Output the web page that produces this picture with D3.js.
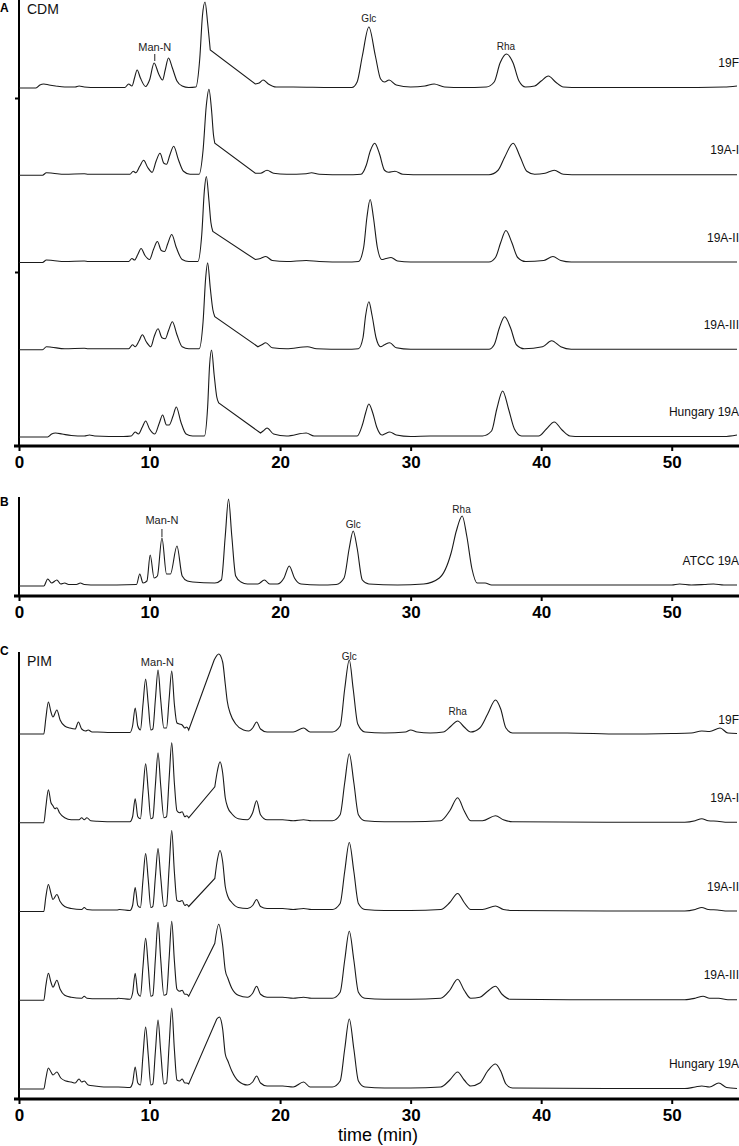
<!DOCTYPE html>
<html><head><meta charset="utf-8">
<script src="https://cdn.jsdelivr.net/npm/d3@7"></script>
<style>
body{margin:0;background:#fff;}
svg{display:block;}
</style></head>
<body>
<svg id="chart" width="739" height="1146"></svg>
<script>
// ---------------- DATA ----------------
const xTicks = [0, 10, 20, 30, 40, 50];
const xLabel = "time (min)";

const panelATitle = "CDM";
const panelCTitle = "PIM";
const samplesA = ["19F", "19A-I", "19A-II", "19A-III", "Hungary 19A"];
const samplesB = ["ATCC 19A"];
const samplesC = ["19F", "19A-I", "19A-II", "19A-III", "Hungary 19A"];

// Panel A (CDM) traces: [time (min), detector response]
const cdm19F = [[0,0],[1.3,0],[1.6,3],[1.9,4],[2.3,3],[2.8,2],[3.5,1],[4.3,1],[4.6,2],[5.0,1],[6,0.5],[8.1,0.5],[8.4,4],[8.65,2],[8.85,10],[9.05,18],[9.3,10],[9.7,1.5],[10.0,8],[10.35,25],[10.7,14],[11.0,8],[11.2,18],[11.45,30],[11.75,20],[12.1,7],[12.5,2],[13.0,0.5],[13.55,1],[13.85,30],[14.05,72],[14.25,86],[14.45,65],[14.65,38],[18.1,4],[18.4,5],[18.7,8],[19.1,4],[19.7,1],[21,1],[24,0.5],[25.5,0.5],[25.9,6],[26.3,32],[26.8,61],[27.3,32],[27.7,9],[28.0,6],[28.35,8],[28.9,3],[30,1],[31.1,2],[31.8,4],[32.6,1],[34,0.5],[35.8,1],[36.4,6],[36.85,25],[37.35,34],[37.85,25],[38.3,7],[38.8,1],[39.5,2],[40.0,7],[40.55,12],[41.1,6],[41.7,1],[43,0.5],[50,0.5],[54,1],[55,2]];
const cdm19AI = [[0,0],[1.8,0],[2.1,2.5],[2.6,2],[3.5,1],[5.0,1.5],[5.3,1],[8.5,1],[8.75,4],[8.95,2.5],[9.25,9],[9.55,15],[9.85,8],[10.2,3],[10.5,14],[10.8,22],[11.1,12],[11.3,11],[11.55,20],[11.85,29],[12.2,16],[12.6,4],[13.1,1],[13.8,1],[14.1,25],[14.35,70],[14.55,86],[14.75,65],[14.9,40],[15.0,32],[18.1,2],[18.5,2],[19.0,5],[19.5,2],[20.5,1],[22.0,1.5],[22.4,2.5],[23,1],[25,0.5],[26.2,1],[26.6,10],[26.9,24],[27.25,32],[27.6,22],[28.0,5],[28.3,3],[28.8,4],[29.4,1],[31,0.5],[36,0.5],[36.7,5],[37.2,18],[37.85,32],[38.4,18],[38.9,4],[39.5,1],[40.3,2],[41.0,5],[41.7,1],[43,0.5],[54,0.5],[55,0.5]];
const cdm19AII = [[0,0],[1.8,0],[2.1,2.5],[2.6,2],[3.5,1],[5.0,1.5],[5.3,1],[8.4,1],[8.65,4],[8.85,2.5],[9.1,8],[9.35,14],[9.65,7],[10.0,3],[10.3,13],[10.6,21],[10.9,12],[11.15,11],[11.4,19],[11.7,28],[12.05,15],[12.5,3],[13.0,1],[13.7,1],[14.0,28],[14.2,72],[14.35,86],[14.55,62],[14.7,40],[14.85,31],[18.1,3],[18.5,4],[18.9,6],[19.4,2],[20.5,1],[22.0,2],[23,1],[25,0.5],[26.0,1],[26.4,15],[26.65,45],[26.9,63],[27.15,45],[27.45,15],[27.8,3],[28.1,4],[28.5,5],[29,1.5],[30,0.5],[36,0.5],[36.5,5],[36.9,20],[37.3,32],[37.75,20],[38.2,5],[38.8,1],[40.2,2],[40.9,6],[41.5,2],[42.3,0.5],[55,0.5]];
const cdm19AIII = [[0,0],[1.8,0],[2.1,3],[2.5,2.5],[3.5,1],[5.0,1.5],[5.3,1],[8.4,1],[8.7,5],[8.9,3],[9.2,9],[9.45,15],[9.75,8],[10.1,3],[10.35,13],[10.65,21],[10.95,12],[11.2,11],[11.45,19],[11.75,28],[12.1,15],[12.5,3],[13.0,1],[13.8,1],[14.1,28],[14.3,72],[14.45,87],[14.65,62],[14.85,40],[15.0,33],[18.3,3],[18.6,5],[18.9,7],[19.4,2],[20.5,1],[22.1,3],[22.8,1],[25,0.5],[26.0,1],[26.35,12],[26.55,34],[26.8,48],[27.05,34],[27.35,12],[27.7,3],[28.0,5],[28.4,7],[28.9,2],[30,0.5],[36,0.5],[36.4,5],[36.8,22],[37.2,33],[37.65,22],[38.1,5],[38.7,1],[40.1,3],[40.8,9],[41.5,3],[42.3,0.5],[55,0.5]];
const cdmHungary = [[0,0],[2.2,0],[2.5,3],[2.8,4],[3.3,3],[4,1.5],[5.0,1],[5.4,2],[5.8,1],[8,0.5],[8.6,1],[8.9,5],[9.15,3],[9.45,10],[9.7,16],[10.0,8],[10.4,3],[10.75,14],[11.0,22],[11.3,12],[11.5,12],[11.8,21],[12.05,30],[12.4,15],[12.8,3],[13.3,1],[14.2,1],[14.45,30],[14.6,72],[14.75,87],[14.95,62],[15.15,40],[15.3,34],[18.5,4],[18.7,6],[19.0,9],[19.5,3],[20.5,1],[22.0,4],[22.6,1],[24.8,1],[25.9,1],[26.3,12],[26.55,24],[26.8,33],[27.1,24],[27.4,10],[27.8,2],[28.0,3],[28.4,5],[28.9,2],[30,0.5],[31.5,1],[35.5,1],[36.2,6],[36.6,28],[37.05,46],[37.5,28],[37.95,8],[38.5,1],[39.8,1],[40.4,8],[41.0,15],[41.6,7],[42.2,1],[43,0.5],[54,0.5],[55,2]];
// straight baseline-jump segments in each CDM trace: [from time, to time]
const cdmJumps = [[14.65, 18.1], [15.0, 18.1], [14.85, 18.1], [15.0, 18.3], [15.3, 18.5]];

// Panel B (ATCC 19A)
const atcc19A = [[0,0],[1.9,0],[2.2,7],[2.5,3],[2.9,6],[3.2,2],[3.5,3],[3.8,1.5],[4.4,1.5],[4.7,3],[5.0,1.5],[6,1],[9.0,1.5],[9.25,12],[9.5,3],[9.8,5],[10.05,31],[10.35,8],[10.6,10],[10.95,48],[11.3,12],[11.6,12],[12.1,40],[12.5,10],[12.9,5],[13.3,4],[15.0,3],[15.5,6],[15.8,50],[16.05,87],[16.3,50],[16.6,10],[17.0,4],[17.5,2],[18.3,2],[18.8,6],[19.2,2],[19.8,2],[20.3,8],[20.7,20],[21.1,8],[21.6,2],[23,1],[24.3,1.5],[24.9,8],[25.3,38],[25.6,55],[25.9,38],[26.3,6],[26.8,2],[29,1],[31,2],[32.2,8],[33.1,33],[33.5,55],[33.95,70],[34.3,50],[34.7,17],[35.1,3],[35.7,3],[36.2,1],[40,1],[45,1],[50,1],[50.6,2],[51.5,1],[52.5,1.5],[53.2,2],[54,1],[55,1]];

// Panel C (PIM) traces
const pim19F = [[0,0],[1.9,0],[2.05,15],[2.25,32],[2.45,22],[2.6,17],[2.9,24],[3.15,14],[3.5,8],[3.9,6],[4.3,5],[4.55,12],[4.8,5],[5.1,3],[5.3,4],[5.6,2],[6,2],[7,1.5],[8.5,1.5],[8.7,8],[8.9,26],[9.1,8],[9.3,4],[9.5,30],[9.7,55],[9.9,30],[10.1,4],[10.25,5],[10.45,35],[10.65,64],[10.85,35],[11.1,6],[11.3,6],[11.5,35],[11.7,63],[11.9,30],[12.1,11],[12.3,10],[12.5,9],[12.7,6],[12.85,7],[13.0,4],[14.95,74],[15.3,80],[15.6,72],[15.8,50],[15.95,33],[16.2,20],[16.6,10],[17.2,4],[17.6,3],[17.9,6],[18.2,12],[18.5,5],[19,2],[20.2,2],[21.0,2],[21.8,6],[22.3,2],[23,2],[24,2],[24.6,8],[24.95,45],[25.3,74],[25.6,45],[25.95,10],[26.5,2],[28,1],[29.6,2],[30.0,4],[30.5,2],[31.5,1],[32.5,2],[33.1,8],[33.6,13],[34.1,7],[34.6,2],[35.3,6],[35.9,20],[36.5,34],[36.9,25],[37.3,6],[37.8,1],[40,1],[42,1],[46,0],[50,0.5],[51.5,1],[52.3,3],[52.9,2.5],[53.7,6],[54.3,1],[55,0.5]];
const pim19AI = [[0,0],[1.9,0],[2.05,15],[2.25,33],[2.45,20],[2.6,17],[2.75,14],[2.9,15],[3.1,10],[3.5,5],[4,3],[4.6,3],[4.8,5],[5.0,3],[5.2,5],[5.5,2],[6,1.5],[7.5,1],[8.5,1],[8.7,6],[8.9,24],[9.1,6],[9.3,4],[9.5,32],[9.7,59],[9.9,32],[10.1,4],[10.25,5],[10.45,38],[10.65,70],[10.85,38],[11.1,5],[11.3,6],[11.5,44],[11.7,80],[11.9,40],[12.1,12],[12.3,10],[12.5,11],[12.7,6],[12.85,7],[13.0,5],[15.0,36],[15.2,52],[15.4,61],[15.6,50],[15.8,25],[16.0,15],[16.3,9],[16.8,4],[17.5,3],[17.9,10],[18.2,22],[18.5,8],[19,3],[20.2,3],[21.0,2],[21.8,3],[22.4,2],[24,2],[24.6,8],[24.95,40],[25.3,69],[25.65,40],[26.0,8],[26.5,2],[28,1],[30,1],[32.3,2],[33.0,12],[33.6,25],[34.1,12],[34.6,2],[35.5,2],[36.5,7],[37.1,3],[37.8,1],[45,0.5],[51,0.5],[51.8,2],[52.3,4],[52.8,2],[53.5,1.5],[54.3,0.5],[55,0.5]];
const pim19AII = [[0,0],[1.9,0],[2.05,14],[2.25,27],[2.45,18],[2.6,12],[2.9,17],[3.15,10],[3.5,5],[4,3],[4.8,2],[5.0,4],[5.2,2],[6,1.5],[7.5,1.5],[7.7,2],[8.5,1],[8.7,6],[8.9,24],[9.1,6],[9.3,4],[9.5,32],[9.7,58],[9.9,32],[10.1,4],[10.25,5],[10.45,35],[10.65,63],[10.85,35],[11.1,5],[11.3,6],[11.5,44],[11.7,81],[11.9,40],[12.1,11],[12.3,10],[12.5,11],[12.7,6],[12.85,7],[13.0,5],[15.0,33],[15.2,52],[15.4,61],[15.6,50],[15.8,25],[16.0,15],[16.3,9],[16.8,4],[17.5,3],[17.9,6],[18.2,12],[18.5,5],[19,3],[20.2,3],[21.0,2],[21.8,3],[22.4,2],[24,2],[24.6,8],[24.95,40],[25.3,69],[25.65,40],[26.0,8],[26.5,2],[28,1],[30,1],[32.3,2],[33.0,9],[33.6,18],[34.1,9],[34.6,2],[35.5,2],[36.5,5.5],[37.1,2],[37.8,1],[45,0.5],[51,0.5],[51.8,2],[52.3,4],[52.8,2],[53.5,1.5],[54.3,0.5],[55,0.5]];
const pim19AIII = [[0,0],[1.9,0],[2.05,14],[2.25,27],[2.45,18],[2.6,13],[2.9,20],[3.15,11],[3.5,5],[4,3],[4.8,2],[5.0,4],[5.2,2],[6,1.5],[7.5,1.5],[7.6,2],[8.5,1],[8.7,7],[8.9,27],[9.1,7],[9.3,4],[9.5,34],[9.7,62],[9.9,34],[10.1,4],[10.25,5],[10.45,42],[10.65,78],[10.85,42],[11.1,5],[11.3,6],[11.5,42],[11.7,79],[11.9,40],[12.1,11],[12.3,9],[12.5,10],[12.7,6],[12.85,6],[13.0,4],[15.0,57],[15.3,76],[15.6,55],[15.8,30],[16.0,22],[16.3,12],[16.8,5],[17.5,3],[17.9,7],[18.2,14],[18.5,6],[19,3],[20.2,3],[21.0,2],[21.8,3],[22.4,2],[24,2],[24.6,8],[24.95,40],[25.3,69],[25.65,40],[26.0,8],[26.5,2],[28,1],[30,1],[32.3,2],[33.0,10],[33.6,21],[34.1,10],[34.6,2],[35.3,3],[35.9,9],[36.5,14],[37.0,6],[37.6,1],[45,0.5],[51,0.5],[51.8,2],[52.4,4],[52.9,2],[53.6,2],[54.3,0.5],[55,0.5]];
const pimHungary = [[0,0],[1.9,0],[2.05,10],[2.25,21],[2.45,17],[2.6,14],[2.9,17],[3.2,11],[3.6,8],[4.0,7],[4.3,6],[4.6,10],[4.8,7],[5.0,8],[5.3,4],[5.8,3],[6.5,2],[7.6,2],[8.5,1.5],[8.7,6],[8.9,22],[9.1,6],[9.3,4],[9.5,34],[9.7,62],[9.9,34],[10.1,4],[10.25,5],[10.45,38],[10.65,69],[10.85,38],[11.1,5],[11.3,6],[11.5,44],[11.7,81],[11.9,40],[12.1,9],[12.3,8],[12.5,10],[12.7,6],[12.85,6],[13.0,5],[15.15,70],[15.35,72],[15.6,60],[15.8,35],[16.0,28],[16.3,18],[16.8,8],[17.5,4],[17.9,7],[18.2,13],[18.5,6],[19,3],[20.2,3],[21.0,2],[21.8,7],[22.3,2],[24,2],[24.6,8],[24.95,40],[25.3,70],[25.65,40],[26.0,8],[26.5,2],[28,1],[30,1],[32.3,2],[33.0,9],[33.6,17],[34.1,9],[34.6,3],[35.3,6],[35.9,18],[36.5,25],[36.9,18],[37.3,5],[37.8,1],[45,0.5],[51,0.5],[51.8,2],[52.3,3],[52.9,2],[53.6,6],[54.2,1.5],[55,0.5]];
const pimJumps = [[13.0, 14.95], [13.0, 15.0], [13.0, 15.0], [13.0, 15.0], [13.0, 15.15]];

// Peak annotations: [label, time (min)]
const annA = [["Man-N", 10.4], ["Glc", 26.8], ["Rha", 37.3]];
const annB = [["Man-N", 10.95], ["Glc", 25.6], ["Rha", 33.9]];
const annC = [["Man-N", 10.6], ["Glc", 25.3], ["Rha", 33.6]];

const tracesA = [cdm19F, cdm19AI, cdm19AII, cdm19AIII, cdmHungary];
const tracesB = [atcc19A];
const tracesC = [pim19F, pim19AI, pim19AII, pim19AIII, pimHungary];

// ---------------- LAYOUT ----------------
const svg = d3.select("#chart");
const FONT = "'Liberation Sans', Arial, sans-serif";
const x = d3.scaleLinear().domain([0, 55]).range([19, 737]);
const sig = d3.scaleLinear().domain([0, 100]).range([0, 100]);

const panels = [
  {letter:"A", letterY:12, title:panelATitle, titleY:14, axisY:446, yTop:0, names:samplesA, traces:tracesA, jumps:cdmJumps,
   base:d3.scalePoint().domain(samplesA).range([88, 437]), labelLift:[21,21,21,21,21],
   ann:annA, annY:[51,22,50], annSize:[11,10,10], annTick:[54,61], yTicks:true},
  {letter:"B", letterY:506, title:null, axisY:596, yTop:497, names:samplesB, traces:tracesB, jumps:[null],
   base:d3.scalePoint().domain(samplesB).range([586, 586]), labelLift:[21],
   ann:annB, annY:[524,528,513], annSize:[11,10,10], annTick:[529,537], yTicks:false},
  {letter:"C", letterY:655, title:panelCTitle, titleY:666, axisY:1099, yTop:652, names:samplesC, traces:tracesC, jumps:pimJumps,
   base:d3.scalePoint().domain(samplesC).range([734, 1089]), labelLift:[10,21,21,21,21],
   ann:annC, annY:[666,660,715], annSize:[11,10,10], annTick:null, yTicks:false}
];

function tracePath(tr, jump, line) {
  if (!jump) return line(tr);
  const p1 = tr.filter(d => d[0] <= jump[0]);
  const p2 = tr.filter(d => d[0] >= jump[1]);
  // smooth parts joined by a straight segment
  return line(p1) + line(p2).replace(/^M/, "L");
}

panels.forEach(p => {
  const g = svg.append("g");
  g.append("line").attr("x1", x(0)).attr("x2", x(0)).attr("y1", p.yTop).attr("y2", p.axisY)
    .attr("stroke", "#000").attr("stroke-width", 2);
  if (p.yTicks) {
    const yAx = d3.scaleLinear().domain([0, p.axisY]).range([p.axisY, 0]);
    const ya = d3.axisLeft(yAx).tickValues([174, 348]).tickSize(4).tickFormat("");
    const yg = g.append("g").attr("transform", `translate(${x(0)},0)`).call(ya);
    yg.select(".domain").remove();
    yg.selectAll(".tick line").attr("stroke", "#000").attr("stroke-width", 2);
  }
  const xa = d3.axisBottom(x).tickValues(xTicks).tickSize(5).tickSizeOuter(0).tickPadding(5);
  const xg = g.append("g").attr("transform", `translate(0,${p.axisY})`).call(xa);
  xg.select(".domain").attr("stroke", "#000").attr("stroke-width", 3).attr("d", `M${x(0)-5},0H${x(55)+2}`);
  xg.selectAll(".tick line").attr("stroke", "#000").attr("stroke-width", 2);
  xg.selectAll(".tick text").attr("font-family", FONT).attr("font-weight", "bold")
    .attr("font-size", 17).attr("fill", "#000");

  svg.append("text").attr("x", 0).attr("y", p.letterY).text(p.letter)
    .attr("font-family", FONT).attr("font-weight", "bold").attr("font-size", 12).attr("fill", "#000");
  if (p.title) {
    svg.append("text").attr("x", 27).attr("y", p.titleY).text(p.title)
      .attr("font-family", FONT).attr("font-size", 14).attr("fill", "#111");
  }

  p.traces.forEach((tr, i) => {
    const b = p.base(p.names[i]);
    const line = d3.line().x(d => x(d[0])).y(d => b - sig(d[1])).curve(d3.curveMonotoneX);
    g.append("path").attr("d", tracePath(tr, p.jumps[i], line)).attr("fill", "none")
      .attr("stroke", "#1a1a1a").attr("stroke-width", 1.1);
    g.append("text").attr("x", 739).attr("y", b - p.labelLift[i]).attr("text-anchor", "end")
      .text(p.names[i]).attr("font-family", FONT).attr("font-size", 12).attr("fill", "#111");
  });

  p.ann.forEach((a, k) => {
    g.append("text").attr("x", x(a[1])).attr("y", p.annY[k]).attr("text-anchor", "middle")
      .text(a[0]).attr("font-family", FONT).attr("font-size", p.annSize[k]).attr("fill", "#222");
    if (k === 0 && p.annTick) {
      g.append("line").attr("x1", x(a[1])).attr("x2", x(a[1])).attr("y1", p.annTick[0]).attr("y2", p.annTick[1])
        .attr("stroke", "#222").attr("stroke-width", 1);
    }
  });
});

svg.append("text").attr("x", x(27.5)).attr("y", 1141).attr("text-anchor", "middle").text(xLabel)
  .attr("font-family", FONT).attr("font-size", 18).attr("fill", "#000");
</script>
</body></html>
